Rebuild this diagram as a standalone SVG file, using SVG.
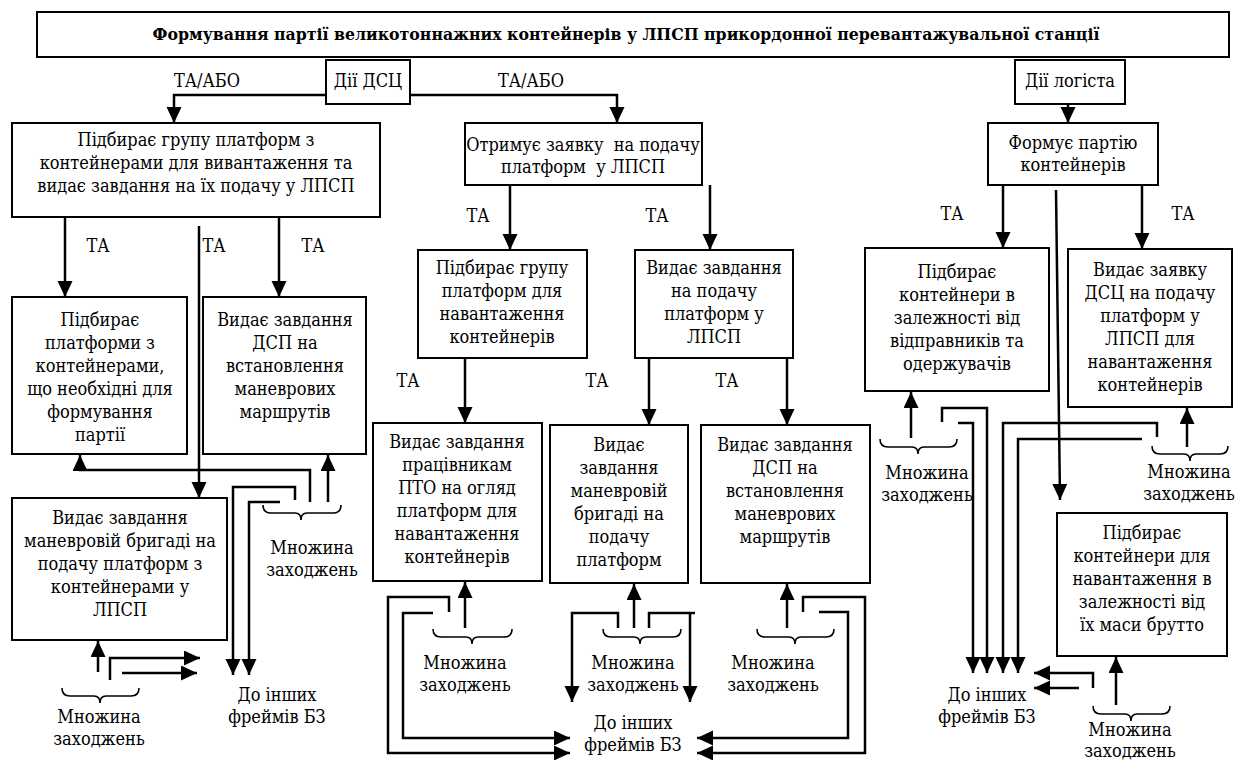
<svg xmlns="http://www.w3.org/2000/svg" width="1235" height="760" viewBox="0 0 1235 760">
<defs>
<style>
.box{fill:#fff;stroke:#000;stroke-width:2}
.c{fill:none;stroke:#000;stroke-width:2.5}
.a{marker-end:url(#ah)}
.br{fill:none;stroke:#000;stroke-width:1.6}
text{font-family:'DejaVu Serif Condensed','DejaVu Serif',serif;font-stretch:condensed;font-size:18px;text-anchor:middle;fill:#000}
.t{font-weight:bold;font-size:17.5px}
</style>
<marker id="ah" markerUnits="userSpaceOnUse" markerWidth="16" markerHeight="16" refX="16" refY="7.5" orient="auto">
<path d="M0,0 L16,7.5 L0,15 z" fill="#000"/>
</marker>
</defs>
<rect width="1235" height="760" fill="#fff"/>

<g id="title">
<rect class="box" x="37" y="12" width="1192" height="45"/>
<text class="t" x="626" y="40">Формування партії великотоннажних контейнерів у ЛПСП прикордонної перевантажувальної станції</text>
</g>
<g id="dsc">
<rect class="box" x="326" y="60" width="84" height="44"/>
<text x="368" y="87">Дії ДСЦ</text>
</g>
<g id="logist">
<rect class="box" x="1015" y="60" width="110" height="44"/>
<text x="1070" y="87">Дії логіста</text>
</g>

<g id="n1">
<rect class="box" x="12" y="123" width="368" height="94"/>
<text><tspan x="196" y="146">Підбирає групу платформ з</tspan><tspan x="196" y="169">контейнерами для вивантаження та</tspan><tspan x="196" y="192">видає завдання на їх подачу у ЛПСП</tspan></text>
</g>
<g id="n2">
<rect class="box" x="12" y="297" width="175" height="157"/>
<text><tspan x="100" y="326">Підбирає</tspan><tspan x="100" y="349">платформи з</tspan><tspan x="100" y="372">контейнерами,</tspan><tspan x="100" y="395">що необхідні для</tspan><tspan x="100" y="418">формування</tspan><tspan x="100" y="441">партії</tspan></text>
</g>
<g id="n3">
<rect class="box" x="203" y="297" width="163" height="157"/>
<text><tspan x="285" y="326">Видає завдання</tspan><tspan x="285" y="349">ДСП на</tspan><tspan x="285" y="372">встановлення</tspan><tspan x="285" y="395">маневрових</tspan><tspan x="285" y="418">маршрутів</tspan></text>
</g>
<g id="n4">
<rect class="box" x="12" y="498" width="215" height="142"/>
<text><tspan x="120" y="524">Видає завдання</tspan><tspan x="120" y="547">маневровій бригаді на</tspan><tspan x="120" y="570">подачу платформ з</tspan><tspan x="120" y="593">контейнерами у</tspan><tspan x="120" y="616">ЛПСП</tspan></text>
</g>

<g id="m1">
<rect class="box" x="465" y="123" width="237" height="62"/>
<text xml:space="preserve"><tspan x="583" y="151">Отримує заявку  на подачу</tspan><tspan x="583" y="173">платформ  у ЛПСП</tspan></text>
</g>
<g id="m2">
<rect class="box" x="418" y="250" width="169" height="108"/>
<text><tspan x="502" y="274">Підбирає групу</tspan><tspan x="502" y="297">платформ для</tspan><tspan x="502" y="320">навантаження</tspan><tspan x="502" y="343">контейнерів</tspan></text>
</g>
<g id="m3">
<rect class="box" x="635" y="250" width="158" height="108"/>
<text><tspan x="714" y="274">Видає завдання</tspan><tspan x="714" y="297">на подачу</tspan><tspan x="714" y="320">платформ у</tspan><tspan x="714" y="343">ЛПСП</tspan></text>
</g>
<g id="m4">
<rect class="box" x="373" y="423" width="169" height="158"/>
<text><tspan x="457" y="448">Видає завдання</tspan><tspan x="457" y="471">працівникам</tspan><tspan x="457" y="494">ПТО на огляд</tspan><tspan x="457" y="517">платформ для</tspan><tspan x="457" y="540">навантаження</tspan><tspan x="457" y="563">контейнерів</tspan></text>
</g>
<g id="m5">
<rect class="box" x="550" y="425" width="138" height="158"/>
<text><tspan x="619" y="451">Видає</tspan><tspan x="619" y="474">завдання</tspan><tspan x="619" y="497">маневровій</tspan><tspan x="619" y="520">бригаді на</tspan><tspan x="619" y="543">подачу</tspan><tspan x="619" y="566">платформ</tspan></text>
</g>
<g id="m6">
<rect class="box" x="701" y="425" width="169" height="158"/>
<text><tspan x="785" y="451">Видає завдання</tspan><tspan x="785" y="474">ДСП на</tspan><tspan x="785" y="497">встановлення</tspan><tspan x="785" y="520">маневрових</tspan><tspan x="785" y="543">маршрутів</tspan></text>
</g>

<g id="r1">
<rect class="box" x="988" y="123" width="170" height="62"/>
<text><tspan x="1073" y="149">Формує партію</tspan><tspan x="1073" y="171">контейнерів</tspan></text>
</g>
<g id="r2">
<rect class="box" x="865" y="248" width="184" height="143"/>
<text><tspan x="957" y="278">Підбирає</tspan><tspan x="957" y="301">контейнери в</tspan><tspan x="957" y="324">залежності від</tspan><tspan x="957" y="347">відправників та</tspan><tspan x="957" y="370">одержувачів</tspan></text>
</g>
<g id="r3">
<rect class="box" x="1068" y="249" width="164" height="158"/>
<text><tspan x="1150" y="276">Видає заявку</tspan><tspan x="1150" y="299">ДСЦ на подачу</tspan><tspan x="1150" y="322">платформ у</tspan><tspan x="1150" y="345">ЛПСП для</tspan><tspan x="1150" y="368">навантаження</tspan><tspan x="1150" y="391">контейнерів</tspan></text>
</g>
<g id="r4">
<rect class="box" x="1057" y="513" width="170" height="143"/>
<text><tspan x="1142" y="539">Підбирає</tspan><tspan x="1142" y="562">контейнери для</tspan><tspan x="1142" y="585">навантаження в</tspan><tspan x="1142" y="608">залежності від</tspan><tspan x="1142" y="631">їх маси брутто</tspan></text>
</g>

<g id="connectors">
<path class="c a" d="M326,95 H174 V123"/>
<path class="c a" d="M410,95 H617 V123"/>
<path class="c a" d="M1068,104 V123"/>
<path class="c a" d="M65,217 V297"/>
<path class="c a" d="M199,226 V498"/>
<path class="c a" d="M279,217 V297"/>
<path class="c a" d="M310,502 V470 H80 V455"/>
<path class="c a" d="M328,502 V455"/>
<path class="c a" d="M295,500 V487 H233 V675"/>
<path class="c a" d="M280,502 H249 V675"/>
<path class="c a" d="M98,672 V641"/>
<path class="c a" d="M110,680 V658 H200"/>
<path class="c a" d="M122,673 H197"/>
<path class="c a" d="M510,185 V250"/>
<path class="c a" d="M710,185 V250"/>
<path class="c a" d="M465,358 V423"/>
<path class="c a" d="M649,358 V425"/>
<path class="c a" d="M787,358 V425"/>
<path class="c a" d="M465,628 V582"/>
<path class="c a" d="M449,612 V597 H388 V753 H570"/>
<path class="c a" d="M433,613 H403 V738 H570"/>
<path class="c a" d="M634,628 V584"/>
<path class="c a" d="M618,628 V613 H572 V702"/>
<path class="c" d="M649,628 V613 H695"/>
<path class="c a" d="M690,613 V702"/>
<path class="c a" d="M787,628 V584"/>
<path class="c a" d="M803,612 V597 H865 V753 H697"/>
<path class="c a" d="M819,612 H848 V738 H697"/>
<path class="c a" d="M1003,185 V248"/>
<path class="c a" d="M1142,185 V249"/>
<path class="c a" d="M1056,190 L1060,500"/>
<path class="c a" d="M911,438 V392"/>
<path class="c a" d="M942,422 V408 H987 V673"/>
<path class="c a" d="M958,423 H973 V673"/>
<path class="c a" d="M1157,437 V423 H1003 V673"/>
<path class="c a" d="M1142,439 H1018 V673"/>
<path class="c a" d="M1187,447 V408"/>
<path class="c a" d="M1116,705 V657"/>
<path class="c a" d="M1093,688 V673 H1034"/>
<path class="c a" d="M1079,688 H1034"/>
</g>

<g id="braces">
<path class="br" d="M263,505 Q263,513 271,513 H295 Q301,513 301,520 Q301,513 307,513 H333 Q341,513 341,505"/>
<path class="br" d="M62,688 Q62,696 70,696 H94 Q100,696 100,703 Q100,696 106,696 H131 Q139,696 139,688"/>
<path class="br" d="M433,629 Q433,637 441,637 H466 Q472,637 472,644 Q472,637 478,637 H504 Q512,637 512,629"/>
<path class="br" d="M603,629 Q603,637 611,637 H634 Q640,637 640,644 Q640,637 646,637 H673 Q681,637 681,629"/>
<path class="br" d="M757,629 Q757,637 765,637 H789 Q795,637 795,644 Q795,637 801,637 H826 Q834,637 834,629"/>
<path class="br" d="M880,439 Q880,447 888,447 H912 Q918,447 918,454 Q918,447 924,447 H949 Q957,447 957,439"/>
<path class="br" d="M1152,446 Q1152,454 1160,454 H1184 Q1190,454 1190,461 Q1190,454 1196,454 H1220 Q1228,454 1228,446"/>
<path class="br" d="M1093,706 Q1093,714 1101,714 H1125 Q1131,714 1131,721 Q1131,714 1137,714 H1162 Q1170,714 1170,706"/>
</g>

<g id="labels">
<text x="207" y="87">ТА/АБО</text>
<text x="531" y="87">ТА/АБО</text>
<text x="98" y="252">ТА</text>
<text x="214" y="252">ТА</text>
<text x="313" y="252">ТА</text>
<text x="478" y="222">ТА</text>
<text x="657" y="222">ТА</text>
<text x="408" y="387">ТА</text>
<text x="597" y="387">ТА</text>
<text x="727" y="387">ТА</text>
<text x="952" y="220">ТА</text>
<text x="1183" y="220">ТА</text>
<text><tspan x="312" y="554">Множина</tspan><tspan x="312" y="576">заходжень</tspan></text>
<text><tspan x="99" y="723">Множина</tspan><tspan x="99" y="745">заходжень</tspan></text>
<text><tspan x="277" y="701">До інших</tspan><tspan x="277" y="723">фреймів БЗ</tspan></text>
<text><tspan x="465" y="669">Множина</tspan><tspan x="465" y="691">заходжень</tspan></text>
<text><tspan x="633" y="669">Множина</tspan><tspan x="633" y="691">заходжень</tspan></text>
<text><tspan x="773" y="669">Множина</tspan><tspan x="773" y="691">заходжень</tspan></text>
<text><tspan x="633" y="729">До інших</tspan><tspan x="633" y="751">фреймів БЗ</tspan></text>
<text><tspan x="927" y="479">Множина</tspan><tspan x="927" y="501">заходжень</tspan></text>
<text><tspan x="1189" y="478">Множина</tspan><tspan x="1189" y="500">заходжень</tspan></text>
<text><tspan x="987" y="701">До інших</tspan><tspan x="987" y="723">фреймів БЗ</tspan></text>
<text><tspan x="1130" y="736">Множина</tspan><tspan x="1130" y="757">заходжень</tspan></text>
</g>
</svg>
